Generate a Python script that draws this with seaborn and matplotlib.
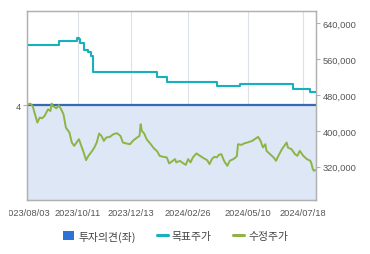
import matplotlib
matplotlib.use("Agg")
import matplotlib.pyplot as plt
import seaborn as sns
import pandas as pd
from matplotlib.lines import Line2D
from matplotlib.patches import Patch
from matplotlib.transforms import Bbox

sns.set_style("white")
plt.rcParams['font.family'] = ['Liberation Sans', 'Noto Sans CJK KR', 'DejaVu Sans']

# ---- data (x = trading-day index from 2023/08/03) ----
tick_idx = [0, 43, 88, 136, 186, 233]
tick_labels = ["2023/08/03", "2023/10/11", "2023/12/13", "2024/02/26", "2024/05/10", "2024/07/18"]
x_end = 243.7

opinion_idx = [0, 243.7]
opinion = [4, 4]

target_idx = [0, 27, 42, 44, 45, 48, 52, 54, 56, 110, 118, 160, 180, 224, 239, 243.7]
target_price = [592000, 600000, 608000, 605000, 595000, 580000, 576000, 568000, 532000,
                521000, 510000, 501000, 504000, 493000, 487000, 487000]

price_idx = [0, 3, 5, 7, 9, 11, 13, 15, 18, 20, 21, 22, 25, 27, 29, 31, 33, 36, 38, 40,
             42, 44, 46, 48, 50, 52, 55, 57, 59, 61, 63, 65, 67, 70, 73, 76, 79, 81, 84, 87,
             90, 93, 95, 96, 97, 99, 101, 104, 107, 110, 112, 115, 118, 120, 123, 125, 126, 129, 132, 134,
             136, 138, 140, 143, 146, 149, 152, 154, 156, 158, 160, 162, 164, 166, 167, 169, 171, 174, 176, 177,
             178, 181, 183, 186, 190, 192, 195, 197, 199, 201, 202, 205, 208, 210, 212, 215, 217, 219, 220, 223,
             226, 228, 230, 233, 236, 239, 240, 241, 242, 243]
price = [458200, 460900, 455600, 437100, 418700, 429800, 428200, 433300, 448200, 444400,
         460900, 455600, 450400, 457100, 448200, 437100, 407600, 396400, 374200, 366700,
         374200, 381600, 366700, 352000, 334900, 344400, 354900, 363100, 374200, 394200,
         388900, 377800, 385300, 386700, 392700, 394900, 388900, 374200, 372000, 370400,
         379300, 385300, 388900, 414900, 400000, 394200, 381600, 372000, 361600, 354200,
         344400, 342200, 340900, 327600, 333300, 337100, 329800, 333300, 327600, 324400,
         337100, 329800, 340900, 349800, 344400, 339300, 334900, 326000, 337100, 342200,
         340900, 346700, 348200, 334900, 329800, 322200, 333300, 337100, 340900, 343800,
         370400, 368900, 372000, 374200, 377800, 381600, 386700, 377800, 363100, 370400,
         355600, 348200, 340900, 333300, 344400, 359300, 366700, 374200, 363100, 359300,
         348200, 344400, 355600, 344400, 337100, 333300, 326000, 314900, 311000, 313000]

price_ticks = [320000, 400000, 480000, 560000, 640000]

df_t = pd.DataFrame({"idx": target_idx, "v": target_price})
df_p = pd.DataFrame({"idx": price_idx, "v": price})

# ---- figure ----
fig = plt.figure(figsize=(3.70, 2.55), dpi=100)
ax = fig.add_axes([26.7/370, (255-201)/255, (316-26.7)/370, (201-12.3)/255])
ax2 = ax.twinx()

col_op = "#3668b4"
col_fill = "#dde7f6"
col_tg = "#17b0be"
col_pr = "#8db445"

ax.fill_between(opinion_idx, 0, opinion, color=col_fill, lw=0, zorder=1)
sns.lineplot(x=opinion_idx, y=opinion, ax=ax, color=col_op, lw=1.6, zorder=3)
ax.set_ylim(0, 4 / 0.5034)
ax.set_yticks([4])
ax.set_yticklabels(["4"])

sns.lineplot(data=df_t, x="idx", y="v", ax=ax2, color=col_tg, lw=1.5, drawstyle="steps-post")
sns.lineplot(data=df_p, x="idx", y="v", ax=ax2, color=col_pr, lw=1.4)
ax2.set_ylim(246000, 666700)
ax2.set_yticks(price_ticks)
ax2.set_yticklabels([f"{v:,}" for v in price_ticks])

ax.set_xlim(0, x_end)
ax.set_xticks(tick_idx)
ax.set_xticklabels(tick_labels)
ax.grid(axis="x", color="#dde2e8", lw=0.8)
ax.set_axisbelow(True)

for a in (ax, ax2):
    a.set_xlabel("")
    a.set_ylabel("")
    for s in a.spines.values():
        s.set_color("#b0b0b0")
        s.set_linewidth(0.9)
    a.tick_params(colors="#b0b0b0", labelcolor="#555555", labelsize=6.7, length=3, width=0.8, pad=1.5)
ax.tick_params(axis="x", length=4)

# clip first tick label like the reference
fig.canvas.draw()
clipbox = Bbox.from_extents(8.5, 0, 370, 255)
for lbl in ax.get_xticklabels():
    lbl.set_clip_box(clipbox)
    lbl.set_clip_on(True)

handles = [Patch(facecolor="#2f72d6", edgecolor="none"),
           Line2D([0], [0], color=col_tg, lw=2.2),
           Line2D([0], [0], color=col_pr, lw=2.2)]
labels = ["투자의견(좌)", "목표주가", "수정주가"]
fig.legend(handles, labels, loc="center", bbox_to_anchor=(0.475, 1 - 237/255), ncol=3,
           frameon=False, prop={"family": ["Noto Sans CJK KR", "DejaVu Sans"], "size": 7.8},
           handlelength=1.0, handleheight=0.9, handletextpad=0.35, columnspacing=2.0,
           labelcolor="#444444")

fig.savefig("out.png", dpi=100)
